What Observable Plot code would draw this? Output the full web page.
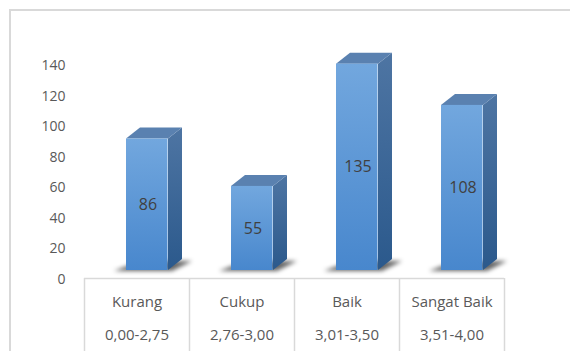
<!DOCTYPE html>
<html>
<head>
<meta charset="utf-8">
<script src="https://cdn.jsdelivr.net/npm/d3@7"></script>
<script src="https://cdn.jsdelivr.net/npm/@observablehq/plot@0.6"></script>
<style>
  body { margin: 0; background: #fff; }
  #wrap { position: relative; width: 570px; height: 351px; overflow: hidden; }
  #border { position: absolute; left: 9px; top: 9px; width: 700px; height: 500px; border: 2px solid #d9d9d9; box-sizing: border-box; }
  #wrap svg { position: absolute; left: 0; top: 0; }
</style>
</head>
<body>
<div id="wrap"><div id="border"></div></div>
<script>
// ---- data ----
const categories = ["Kurang", "Cukup", "Baik", "Sangat Baik"];
const ranges = ["0,00-2,75", "2,76-3,00", "3,01-3,50", "3,51-4,00"];
const values = [86, 55, 135, 108];
const yTicks = [0, 20, 40, 60, 80, 100, 120, 140];

const data = categories.map((c, i) => ({cat: c, range: ranges[i], value: values[i]}));

// ---- 3D geometry (pixels) ----
const FRONT_OFF = 42;   // front face offset from band start
const FRONT_W = 42;     // front face width
const DX = 14, DY = 11; // depth vector
const LIFT = 9;         // front floor above axis zero
const FONT = "'Open Sans', sans-serif";

function threeD(data) {
  return Plot.barY(data, {
    x: "cat", y: "value", fill: "none",
    render(index, scales, values, dimensions, context) {
      const {x, y} = scales;
      const g = d3.create("svg:g");
      const defs = g.append("defs");
      const gf = defs.append("linearGradient").attr("id", "gFront").attr("x1", 0).attr("y1", 0).attr("x2", 0).attr("y2", 1);
      gf.append("stop").attr("offset", 0).attr("stop-color", "#72a7de");
      gf.append("stop").attr("offset", 1).attr("stop-color", "#4887cd");
      const gs = defs.append("linearGradient").attr("id", "gSide").attr("x1", 0).attr("y1", 0).attr("x2", 0).attr("y2", 1);
      gs.append("stop").attr("offset", 0).attr("stop-color", "#4e75a3");
      gs.append("stop").attr("offset", 1).attr("stop-color", "#2b598c");
      defs.append("filter").attr("id", "blur").attr("x", "-50%").attr("y", "-50%").attr("width", "200%").attr("height", "200%")
        .append("feGaussianBlur").attr("stdDeviation", 2.2);

      // table lines
      const bw = x.bandwidth();
      const top = y(0) - 1;
      g.append("line").attr("x1", x(categories[0])).attr("x2", x(categories[categories.length - 1]) + bw)
        .attr("y1", top + 0.5).attr("y2", top + 0.5).attr("stroke", "#d9d9d9").attr("stroke-width", 1.5);
      for (let k = 0; k <= categories.length; k++) {
        const xx = k < categories.length ? x(categories[k]) : x(categories[k - 1]) + bw;
        g.append("line").attr("x1", xx + 0.5).attr("x2", xx + 0.5).attr("y1", top).attr("y2", dimensions.height + 5)
          .attr("stroke", "#d9d9d9").attr("stroke-width", 1.5);
      }

      for (const i of index) {
        const d = data[i];
        const xl = x(d.cat) + FRONT_OFF, xr = xl + FRONT_W;
        const y0 = y(0) - LIFT, yt = y(d.value) - LIFT;
        // shadow
        g.append("polygon")
          .attr("points", [[xl - 12, y0 + 1], [xr + 4, y0 + 1], [xr + DX + 10, y0 - DY + 2], [xl + DX, y0 - DY + 2]].join(" "))
          .attr("fill", "#000").attr("fill-opacity", 0.6).attr("filter", "url(#blur)");
        // side face
        g.append("polygon")
          .attr("points", [[xr, y0], [xr + DX, y0 - DY], [xr + DX, yt - DY], [xr, yt]].join(" "))
          .attr("fill", "url(#gSide)");
        // top face
        g.append("polygon")
          .attr("points", [[xl, yt], [xl + DX, yt - DY], [xr + DX, yt - DY], [xr, yt]].join(" "))
          .attr("fill", "#5a81b0");
      }
      return g.node();
    }
  });
}

const bw = 422 / categories.length;

const plot = Plot.plot({
  width: 570,
  height: 351,
  marginLeft: 83,
  marginRight: 65,
  marginTop: 65,
  marginBottom: 72,
  style: {fontFamily: FONT, color: "#595959", background: "transparent"},
  x: {type: "band", domain: categories, padding: 0, axis: null},
  y: {domain: [0, 140], axis: null, label: null},
  marks: [
    Plot.axisY(yTicks, {anchor: "left", label: null, tickSize: 0, tickPadding: 18, fontSize: 14, tickFormat: d => String(d)}),
    threeD(data),
    Plot.barY(data, {x: "cat", y: "value", insetLeft: FRONT_OFF, insetRight: bw - FRONT_OFF - FRONT_W, dy: -LIFT, fill: "url(#gFront)"}),
    Plot.text(data, {x: "cat", y: d => d.value / 2, dx: 11, dy: -LIFT, text: d => String(d.value), fontSize: 16, fill: "#404040"}),
    Plot.text(data, {x: "cat", y: d => 0, dy: 23, text: "cat", fontSize: 15, fill: "#595959"}),
    Plot.text(data, {x: "cat", y: d => 0, dy: 56, text: "range", fontSize: 15, fill: "#595959"})
  ]
});
document.getElementById("wrap").appendChild(plot);
</script>
</body>
</html>
